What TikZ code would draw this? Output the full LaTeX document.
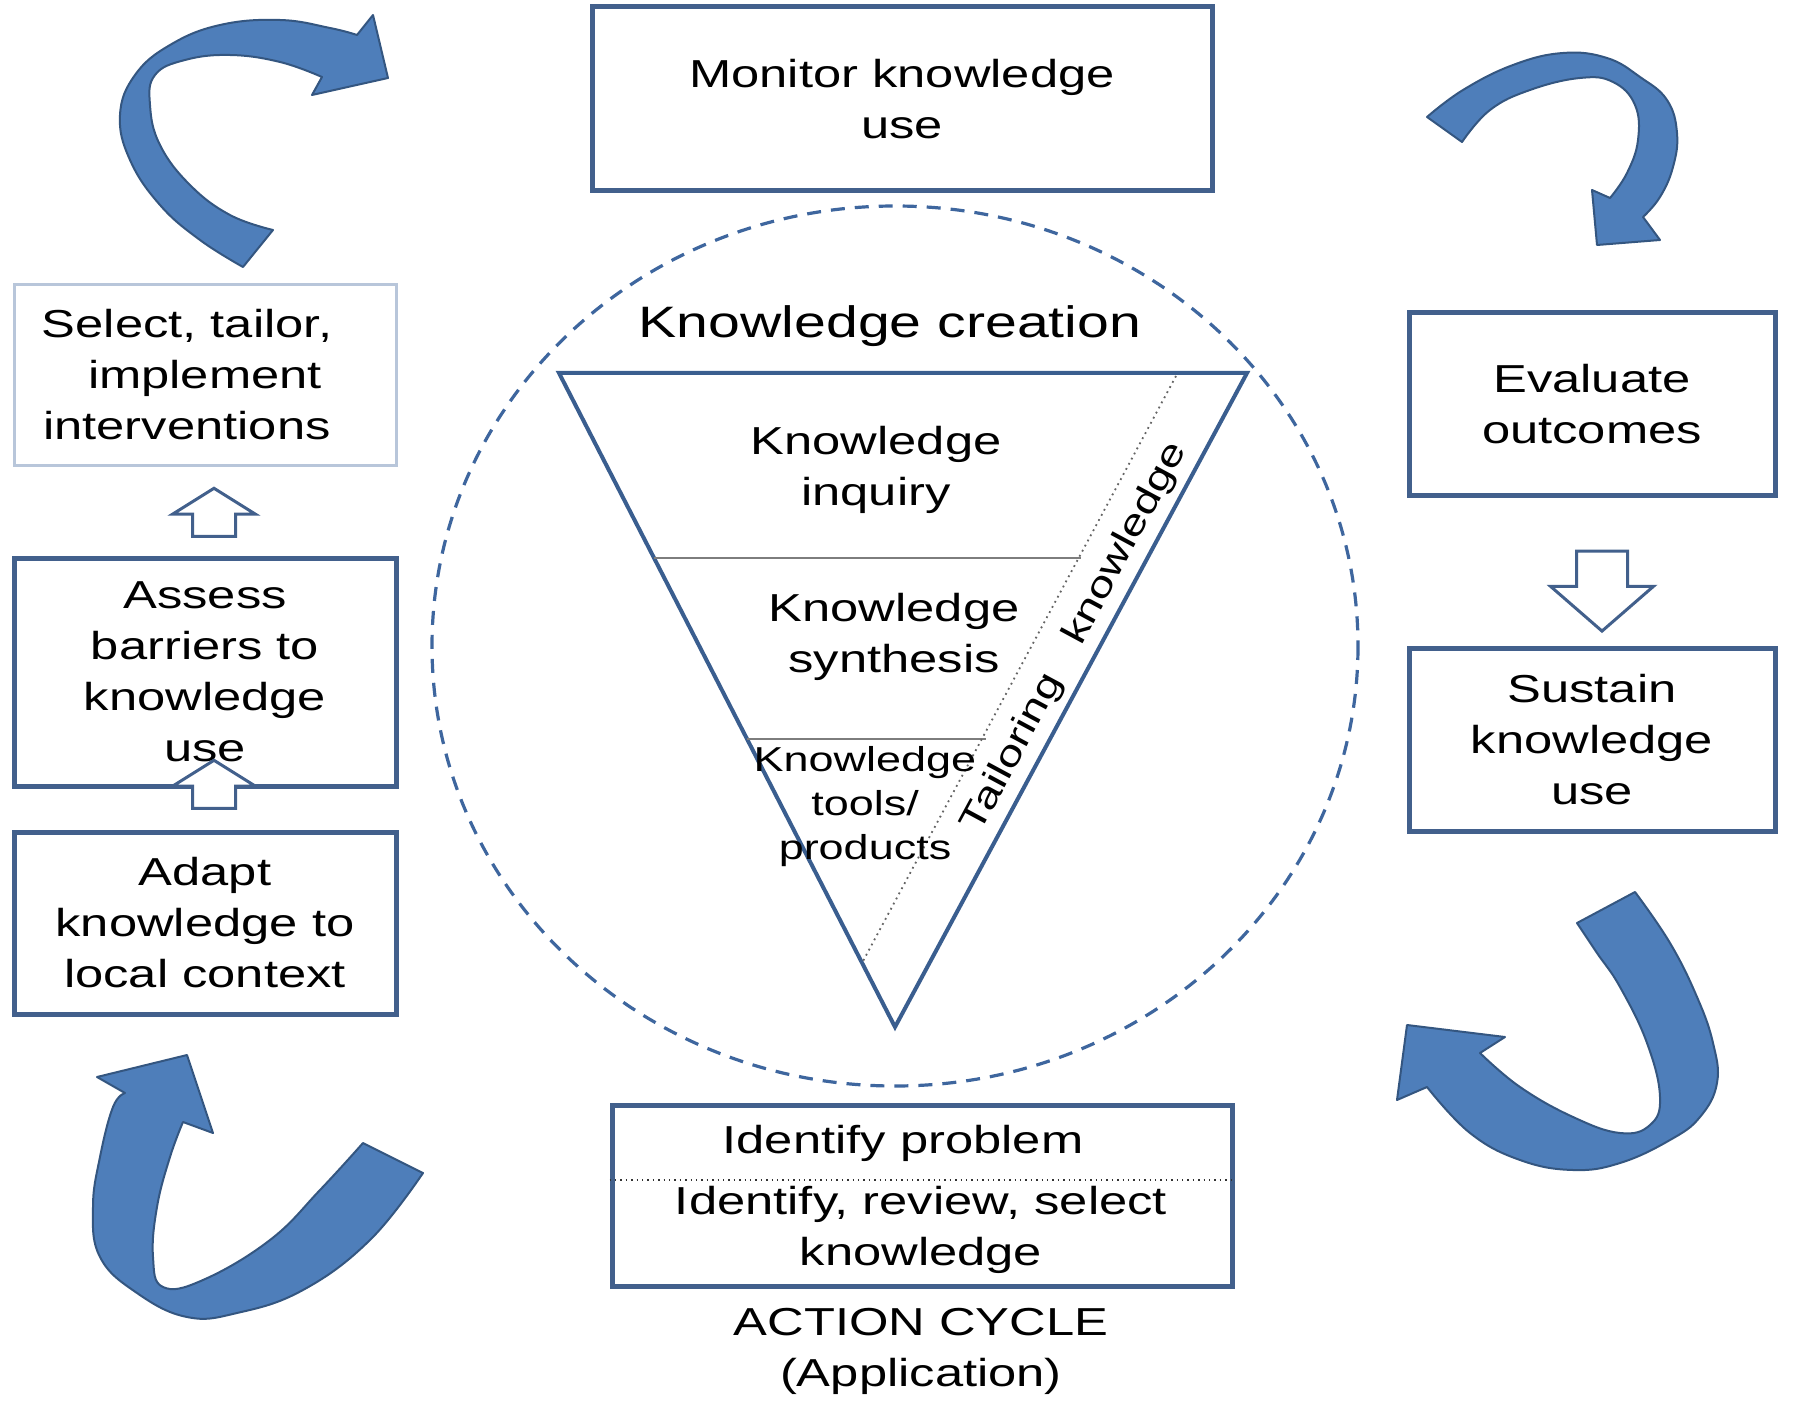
\documentclass[tikz,border=0pt]{standalone}
\usepackage{fontspec}
\setmainfont{Liberation Sans}[FakeStretch=1.3]
\usetikzlibrary{shapes.arrows}

\definecolor{boxblue}{RGB}{66,96,140}
\definecolor{paleblue}{RGB}{184,198,218}
\definecolor{triblue}{RGB}{58,94,143}
\definecolor{ringblue}{RGB}{62,102,158}
\definecolor{swooshfill}{RGB}{78,126,186}
\definecolor{swooshline}{RGB}{52,86,128}
\definecolor{divgray}{RGB}{125,125,125}

\tikzset{every picture/.style={line width=0.75pt}}
\tikzset{
  txt/.style={align=center, inner sep=0pt, font=\fontsize{19.5}{25.5}\selectfont},
  stage/.style={txt, draw=boxblue, line width=2.5pt},
  palestage/.style={txt, draw=paleblue, line width=1.5pt},
  hollow/.style={single arrow, draw=boxblue, fill=white, line width=1.5pt, inner xsep=0pt},
  swoosh/.style={fill=swooshfill, draw=swooshline, line width=1pt, line join=round},
}

\begin{document}
\begin{tikzpicture}[x=0.5pt,y=0.5pt,yscale=-1,xscale=1]
\useasboundingbox (0,0) rectangle (1793,1401);

% Ellipse: knowledge creation funnel
\draw [ringblue, line width=1.6pt, dash pattern=on 7pt off 5pt] (895,646) ellipse [x radius=463, y radius=440];

% Triangle
\coordinate (tl) at (559,373);
\coordinate (tr) at (1247,373);
\coordinate (apex) at (895,1027);
\draw [triblue, line width=2pt, line join=miter] (tl) -- (tr) -- (apex) -- cycle;
\draw [divgray, line width=1.2pt] (654,558) -- (1081,558);
\draw [divgray, line width=1.2pt] (747,739) -- (986,739);
\draw [divgray!80!black, line width=0.9pt, dotted] (1176,376) -- (862,963);

% Text Node
\node [txt, font=\fontsize{22}{28}\selectfont] (creation) at (890,326) {Knowledge creation};
\node [txt] (inquiry) at (876,470) {Knowledge\\inquiry};
\node [txt] (synthesis) at (894,637) {Knowledge\\synthesis};
\node [txt, font=\fontsize{17.3}{22}\selectfont] (tools) at (865,807) {Knowledge\\tools/\\products};
\node [txt, font=\fontsize{18}{22}\selectfont, rotate=61.7] (tailoring) at (1013,753) {Tailoring};
\node [txt, font=\fontsize{18}{22}\selectfont, rotate=61.7] (tknow) at (1126,544) {knowledge};

% Stage boxes
\node [stage, minimum width=310pt, minimum height=92pt] (monitor) at (902,99) {Monitor knowledge\\use};
\node [palestage, minimum width=191pt, minimum height=90.5pt] (select) at (205,375) {Select, tailor,\hspace*{18pt}\\implement\hspace*{18pt}\\interventions\hspace*{18pt}};
\node [stage, minimum width=191pt, minimum height=114pt] (assess) at (205,672) {Assess\\barriers to\\knowledge\\use};
\node [stage, minimum width=191pt, minimum height=91pt] (adapt) at (205,923) {Adapt\\knowledge to\\local context};
\node [stage, minimum width=183pt, minimum height=91.5pt] (evaluate) at (1592,404) {Evaluate\\outcomes};
\node [stage, minimum width=183pt, minimum height=91.5pt] (sustain) at (1592,740) {Sustain\\knowledge\\use};
\node [stage, minimum width=310pt, minimum height=90.5pt] (action) at (922,1195.5) {};
\draw [black!80, line width=0.7pt, dotted] (action.west |- 0,1180) -- (action.east |- 0,1180);
\node [txt] (problem) at (903,1143) {Identify problem};
\node [txt] (review) at (921,1230) {Identify, review, select\\knowledge};
\node [txt] (cycle) at (921,1351) {ACTION CYCLE\\(Application)};

% Hollow arrows
\node [hollow, rotate=90, inner ysep=10pt, minimum height=24pt, single arrow head extend=10pt, single arrow tip angle=116] (upa) at (214,519) {};
\node [hollow, rotate=90, inner ysep=10pt, minimum height=24pt, single arrow head extend=10pt, single arrow tip angle=116] (upb) at (214,791) {};
\node [hollow, rotate=-90, inner ysep=12pt, minimum height=40pt, single arrow head extend=13pt, single arrow tip angle=98] (down) at (1602,580) {};

% Curved arrows
\filldraw [swoosh] (243,267) -- plot [smooth, tension=0.7] coordinates {(243,267) (200,240) (160,205) (130,160) (120,115) (135,75) (170,45) (220,25) (280,20) (330,28) (357,35)}
  -- (373,15) -- (388,78) -- (312,95) -- (322,77)
  -- plot [smooth, tension=0.7] coordinates {(322,77) (280,62) (230,55) (185,60) (155,75) (150,105) (160,145) (190,185) (230,215) (273,230)} -- cycle;
\filldraw [swoosh] (1427,117) -- plot [smooth, tension=0.7] coordinates {(1427,117) (1463,90) (1513,65) (1563,53) (1607,58) (1640,77) (1667,100) (1677,133) (1673,167) (1660,197) (1643,217)}
  -- (1660,240) -- (1597,245) -- (1592,190) -- (1610,198)
  -- plot [smooth, tension=0.7] coordinates {(1610,198) (1627,173) (1638,140) (1635,105) (1613,82) (1580,78) (1530,90) (1490,110) (1462,142)} -- cycle;
\filldraw [swoosh] (423,1173) -- plot [smooth, tension=0.7] coordinates {(423,1173) (370,1240) (303,1290) (237,1313) (187,1317) (137,1293) (100,1257) (93,1207) (100,1157) (113,1107) (125,1093)}
  -- (97,1077) -- (187,1055) -- (213,1133) -- (183,1122)
  -- plot [smooth, tension=0.7] coordinates {(183,1122) (170,1157) (157,1207) (153,1257) (163,1287) (203,1280) (270,1240) (320,1190) (363,1143)} -- cycle;
\filldraw [swoosh] (1635,892) -- plot [smooth, tension=0.7] coordinates {(1635,892) (1670,943) (1697,997) (1713,1043) (1717,1083) (1700,1117) (1670,1140) (1620,1163) (1573,1170) (1520,1160) (1470,1133) (1427,1087)}
  -- (1397,1100) -- (1407,1025) -- (1505,1037) -- (1480,1053)
  -- plot [smooth, tension=0.7] coordinates {(1480,1053) (1520,1087) (1573,1117) (1620,1133) (1650,1125) (1660,1097) (1647,1043) (1620,987) (1597,953) (1577,923)} -- cycle;

\end{tikzpicture}
\end{document}
